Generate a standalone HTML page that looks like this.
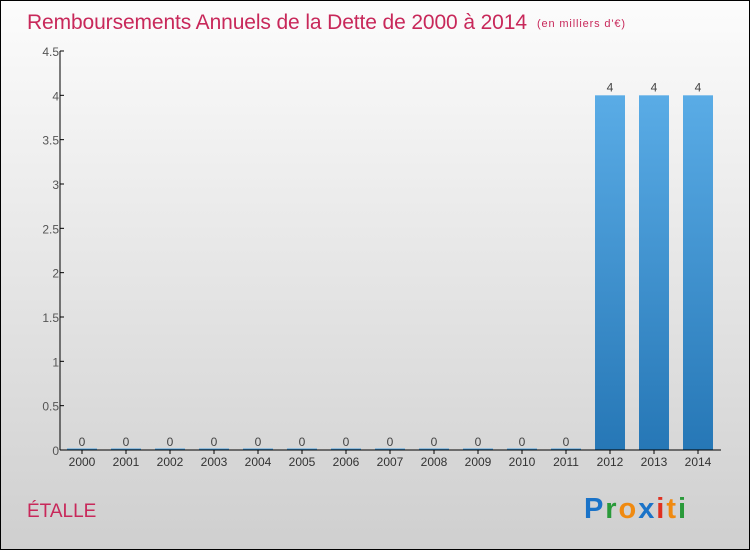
<!DOCTYPE html>
<html><head><meta charset="utf-8"><style>
body{margin:0}
#c{width:748px;height:548px;border:1px solid #000;position:relative;background:linear-gradient(#fcfcfc,#cfcfcf);font-family:"Liberation Sans",sans-serif;overflow:hidden}
</style></head><body>
<div id="c">
<svg id="s" width="748" height="548" style="position:absolute;left:0;top:0">
<text x="26" y="28" font-size="21" fill="#c8285a" textLength="500">Remboursements Annuels de la Dette de 2000 à 2014</text>
<text x="536" y="26" font-size="11" fill="#c8285a" textLength="88">(en milliers d'€)</text>
<text x="26" y="516" font-size="19" fill="#c8285a">ÉTALLE</text>
<g font-size="29" font-weight="bold">
<text x="583" y="517" textLength="102"><tspan fill="#1a73c8">P</tspan><tspan fill="#2a9a3a">r</tspan><tspan fill="#f08a10">o</tspan><tspan fill="#1a73c8">x</tspan><tspan fill="#e03020">i</tspan><tspan fill="#f08a10">t</tspan><tspan fill="#2a9a3a">i</tspan></text>
</g>
</svg>
</div>
<script>
const categories=["2000","2001","2002","2003","2004","2005","2006","2007","2008","2009","2010","2011","2012","2013","2014"];
const values=[0,0,0,0,0,0,0,0,0,0,0,0,4,4,4];
const yTicks=[0,0.5,1,1.5,2,2.5,3,3.5,4,4.5];
const yTickLabels=["0","0.5","1","1.5","2","2.5","3","3.5","4","4.5"];
const s=document.getElementById('s');const NS="http://www.w3.org/2000/svg";
const y0=449,ppu=88.67,x0=59;
const yS=v=>y0-v*ppu; const xS=i=>81+44*i;
function mk(t,a,p){const e=document.createElementNS(NS,t);for(const k in a)e.setAttribute(k,a[k]);(p||s).appendChild(e);return e;}
const defs=mk('defs',{});const g=mk('linearGradient',{id:'bg',x1:0,y1:0,x2:0,y2:1},defs);
mk('stop',{offset:0,'stop-color':'#5aace6'},g);mk('stop',{offset:1,'stop-color':'#2677b6'},g);
values.forEach((v,i)=>{
 const h=Math.max(v*ppu,1.5);
 const r=mk('rect',{x:xS(i)-15,y:y0-h,width:30,height:h,fill:'url(#bg)'});
 
 
 const t=mk('text',{x:xS(i),y:yS(v)-4,'font-size':12,fill:'#444','text-anchor':'middle'});t.textContent=v;
 
 
 const l=mk('text',{x:xS(i),y:y0+16,'font-size':12,fill:'#333','text-anchor':'middle'});l.textContent=categories[i];
 
 
 mk('line',{x1:xS(i),x2:xS(i),y1:y0,y2:y0+4,stroke:'#000'});
});
yTicks.forEach((v,i)=>{
 mk('line',{x1:x0,x2:x0+4,y1:yS(v),y2:yS(v),stroke:'#000'});
 const t=mk('text',{x:x0-1,y:yS(v)+5,'font-size':12,fill:'#555','text-anchor':'end'});t.textContent=yTickLabels[i];
 
 
});
const ya=mk('line',{x1:x0,x2:x0,y1:yS(4.5),y2:y0,stroke:'#000'});


const xa=mk('line',{x1:x0,x2:720,y1:y0,y2:y0,stroke:'#000'});


</script>
</body></html>
